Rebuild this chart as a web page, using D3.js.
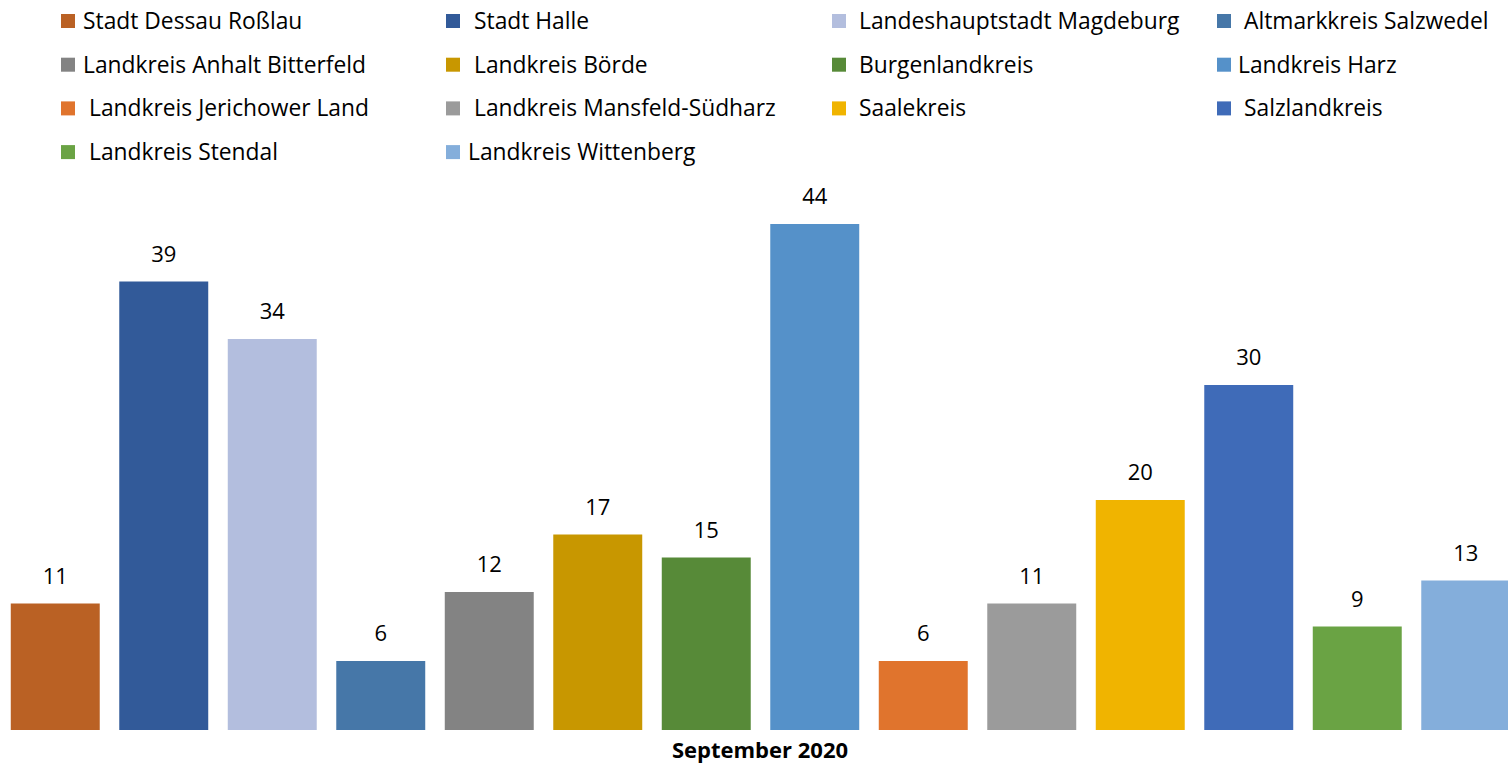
<!DOCTYPE html>
<html lang="de">
<head>
    <meta charset="UTF-8">
    <title>September 2020</title>
    <style>
        body { margin: 0; padding: 0; background: #fff; }
        svg { display: block; }
        text { font-family: "Open Sans", "Noto Sans", sans-serif; fill: #000; }
    </style>
</head>
<body>
    <svg width="1508" height="763"></svg>
    <script src="https://d3js.org/d3.v7.min.js"></script>
    <script>
        // Landkreise / kreisfreie Staedte
        const districts = [
            "Stadt Dessau Roßlau", "Stadt Halle", "Landeshauptstadt Magdeburg", "Altmarkkreis Salzwedel",
            "Landkreis Anhalt Bitterfeld", "Landkreis Börde", "Burgenlandkreis", "Landkreis Harz",
            "Landkreis Jerichower Land", "Landkreis Mansfeld-Südharz", "Saalekreis", "Salzlandkreis",
            "Landkreis Stendal", "Landkreis Wittenberg"
        ];
        // values for September 2020
        const values = [11, 39, 34, 6, 12, 17, 15, 44, 6, 11, 20, 30, 9, 13];
        const colors = [
            "#BA6124", "#325A99", "#B3BEDE", "#4677A8",
            "#838383", "#C89700", "#578A38", "#5591C9",
            "#E0742D", "#9B9B9B", "#F0B400", "#3F6BB8",
            "#6AA344", "#84AEDB"
        ];
        const categoryLabel = "September 2020";

        const svg = d3.select("svg");

        // scales
        const x = d3.scaleBand()
            .domain(districts)
            .range([1, 1520])
            .paddingInner(0.18)
            .paddingOuter(0.09);

        const y = d3.scaleLinear()
            .domain([0, 50])
            .range([730, 155]);

        // bars
        svg.selectAll("rect.bar")
            .data(values)
            .enter()
            .append("rect")
            .attr("class", "bar")
            .attr("x", (d, i) => x(districts[i]))
            .attr("y", d => y(d))
            .attr("width", x.bandwidth())
            .attr("height", d => y(0) - y(d))
            .attr("fill", (d, i) => colors[i]);

        // value labels
        svg.selectAll("text.value")
            .data(values)
            .enter()
            .append("text")
            .attr("class", "value")
            .attr("x", (d, i) => x(districts[i]) + x.bandwidth() / 2)
            .attr("y", d => y(d) - 20)
            .attr("text-anchor", "middle")
            .attr("font-size", 22)
            .text(d => d);

        // category label
        svg.append("text")
            .attr("x", 760)
            .attr("y", 758)
            .attr("text-anchor", "middle")
            .attr("font-size", 22)
            .attr("font-weight", "bold")
            .text(categoryLabel);

        // legend, 4 columns
        const colX = [61, 446, 832, 1217];
        const textDx = [22, 28, 27, 27, 22, 28, 27, 21, 28, 28, 27, 27, 28, 22];
        const legend = svg.selectAll("g.legend")
            .data(districts)
            .enter()
            .append("g")
            .attr("class", "legend")
            .attr("transform", (d, i) => `translate(${colX[i % 4]},${21 + Math.floor(i / 4) * 43.7})`);

        legend.append("rect")
            .attr("x", 0)
            .attr("y", -7)
            .attr("width", 14)
            .attr("height", 14)
            .attr("fill", (d, i) => colors[i]);

        legend.append("text")
            .attr("x", (d, i) => textDx[i])
            .attr("y", 8)
            .attr("font-size", 22.8)
            .text(d => d);
    </script>
</body>
</html>
